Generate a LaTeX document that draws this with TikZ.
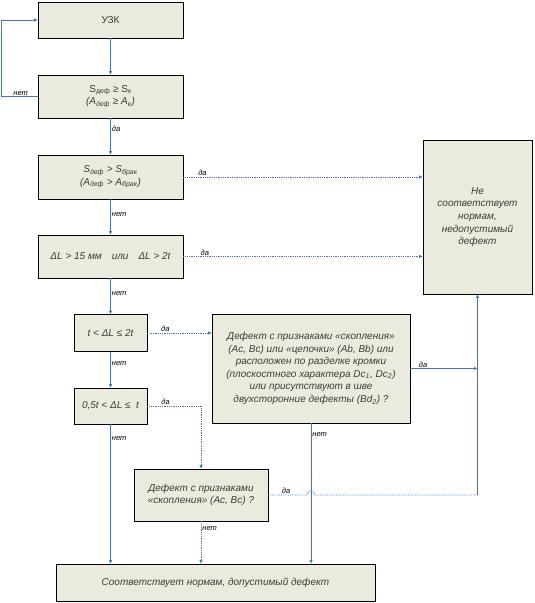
\documentclass[tikz,border=0pt]{standalone}
\usepackage{fontspec}
\setmainfont{Liberation Sans}
\usetikzlibrary{positioning, calc, arrows.meta}
\definecolor{boxfill}{RGB}{234,234,222}
\definecolor{linkblue}{RGB}{68,114,196}
\definecolor{boxtext}{RGB}{60,60,60}

\begin{document}
\begin{tikzpicture}[x=1pt, y=-1pt,
    block/.style={rectangle, draw=black, line width=0.7pt, fill=boxfill,
      text=boxtext, align=center, inner sep=2pt,
      font=\fontsize{10}{12.6}\selectfont\itshape},
    link/.style={draw=linkblue, line width=0.8pt, -{Latex[length=3.5pt,width=3.5pt]}},
    dlink/.style={link, densely dotted},
    lbl/.style={font=\fontsize{7.5}{8}\selectfont\itshape, inner sep=1pt, text=black}]

  \useasboundingbox (0,0) rectangle (535,603);

  \node[block, minimum width=145, minimum height=36] (uzk) at (110.5,20) {\upshape УЗК};
  \node[block, minimum width=145, minimum height=43] (cond1) at (110.5,96.5)
    {{\upshape S\textsubscript{деф} ≥ S\textsubscript{к}}\\(A\textsubscript{деф} ≥ A\textsubscript{к})};
  \node[block, minimum width=145, minimum height=44] (cond2) at (110.5,177)
    {S\textsubscript{деф} > S\textsubscript{брак}\\(A\textsubscript{деф} > A\textsubscript{брак})};
  \node[block, minimum width=145, minimum height=43] (cond3) at (110.5,256.5)
    {ΔL > 15 мм\quad или\quad ΔL > 2t};
  \node[block, minimum width=73, minimum height=37] (cond4) at (110.5,333) {t < ΔL ≤ 2t};
  \node[block, minimum width=73, minimum height=36] (cond5) at (110.5,406) {0,5t < ΔL ≤\ \ t};
  \node[block, minimum width=198, minimum height=109] (chain) at (311,368.5)
    {Дефект с признаками «скопления»\\(Ac, Bc) или «цепочки» (Ab, Bb) или\\
     расположен по разделке кромки\\(плоскостного характера Dc\textsubscript{1}, Dc\textsubscript{2})\\
     или присутствуют в шве\\двухсторонние дефекты (Bd\textsubscript{2}) ?};
  \node[block, minimum width=109, minimum height=154] (reject) at (477.5,217)
    {Не\\соответствует\\нормам,\\недопустимый\\дефект};
  \node[block, minimum width=134, minimum height=52] (cluster) at (201,495)
    {Дефект с признаками\\«скопления» (Ac, Bc) ?};
  \node[block, minimum width=319, minimum height=37] (accept) at (215.5,582.5)
    {Соответствует нормам, допустимый дефект};
  \coordinate (merge) at (cluster.east -| reject.south);

  \draw[link] (uzk) -- (cond1);
  \draw[link] (cond1.west) -- node[lbl, above, pos=0.47] (no1) {нет} ++(-36,0) |- (uzk.west);
  \draw[link] (cond1) -- node[lbl, right, pos=0.3] (yes1) {да} (cond2);
  \draw[dlink] (cond2.east) -- node[lbl, above, pos=0.08] (yes2) {да} (cond2.east -| reject.west);
  \draw[link] (cond2) -- node[lbl, right, pos=0.42] (no2) {нет} (cond3);
  \draw[dlink] (cond3.east) -- node[lbl, above, pos=0.09] (yes3) {да} (cond3.east -| reject.west);
  \draw[link] (cond3) -- node[lbl, right, pos=0.42] (no3) {нет} (cond4);
  \draw[dlink] (cond4.east) -- node[lbl, above, pos=0.28] (yes4) {да} (cond4.east -| chain.west);
  \draw[link] (cond4) -- node[lbl, right, pos=0.33] (no4) {нет} (cond5);
  \draw[dlink] (cond5.east) -| node[lbl, above, pos=0.17] (yes5) {да} (cluster.north);
  \draw[link] (cond5.south) -- node[lbl, right, pos=0.1] (no5) {нет} (cond5.south |- accept.north);
  \draw[link] (chain.east) -- node[lbl, above, pos=0.19] (yes6) {да} (chain.east -| reject.south);
  \draw[link] (chain.south) -- node[lbl, right, pos=0.08] (no6) {нет} (chain.south |- accept.north);
  \draw[dlink, -] (cluster.east) -- node[lbl, above, pos=0.46] (yes7) {да}
    ($(cluster.east -| chain.south)+(-4,0)$) arc[start angle=180, end angle=360, radius=4]
    -- (merge);
  \draw[link] (merge) -- (reject.south);
  \draw[dlink] (cluster.south) -- node[lbl, right, pos=0.16] (no7) {нет} (cluster.south |- accept.north);
\end{tikzpicture}
\end{document}
